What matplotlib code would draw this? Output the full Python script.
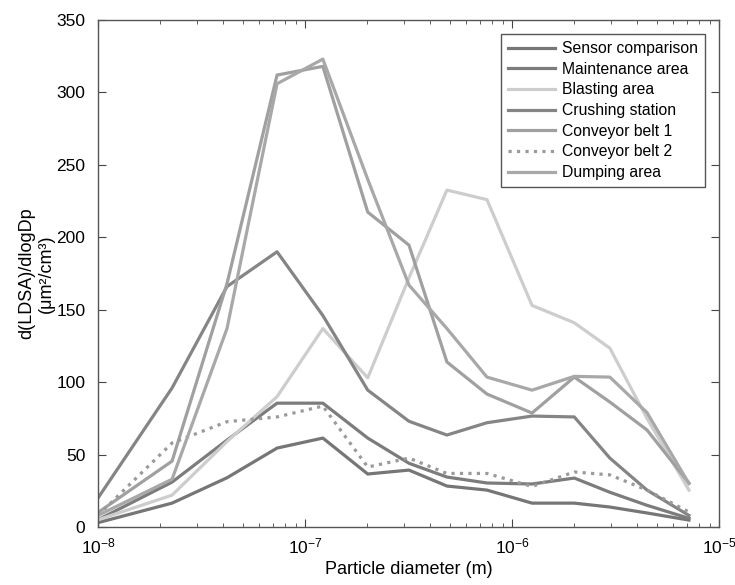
import numpy as np
import matplotlib
matplotlib.use("Agg")
import matplotlib.pyplot as plt

plt.rcParams['font.family'] = ['Liberation Sans', 'DejaVu Sans']
plt.rcParams['mathtext.default'] = 'regular'

# Particle diameter bins (m)
diameter = [1.0e-8, 2.28e-8, 4.2e-8, 7.33e-8, 1.22e-7, 2.01e-7, 3.18e-7,
            4.85e-7, 7.57e-7, 1.25e-6, 2.0e-6, 2.97e-6, 4.49e-6, 7.16e-6]

# d(LDSA)/dlogDp values
sensor_comparison = [3, 16.5, 34, 54.5, 61.4, 36.6, 39.3, 28.3, 25.5, 16.5, 16.5, 13.8, 9.7, 4.8]
maintenance_area = [5, 31, 60, 85.5, 85.5, 61.4, 44, 34.5, 30.4, 29.7, 33.8, 24, 15, 6]
blasting_area = [5, 22, 59, 90, 137, 103, 172, 232.6, 226, 153, 141, 123.5, 75, 25.5]
crushing_station = [20, 96, 166, 190, 146, 94.5, 73, 63.5, 72, 76.6, 76, 47.6, 25.5, 8]
conveyor_belt_1 = [10, 45.5, 168, 312, 318, 217.4, 194.6, 113.9, 91.8, 78.7, 103.5, 86.3, 67, 30.4]
conveyor_belt_2 = [8, 58, 72.7, 76, 83.5, 41.4, 47.6, 37, 37, 28, 38, 36, 25.5, 10.4]
dumping_area = [8, 33, 137, 306, 323, 240, 167, 137, 103.5, 94.5, 104, 103.5, 79, 30]

series = [
    ("Sensor comparison", sensor_comparison, "#767676", "-"),
    ("Maintenance area", maintenance_area, "#7c7c7c", "-"),
    ("Blasting area", blasting_area, "#cdcdcd", "-"),
    ("Crushing station", crushing_station, "#858585", "-"),
    ("Conveyor belt 1", conveyor_belt_1, "#a0a0a0", "-"),
    ("Conveyor belt 2", conveyor_belt_2, "#9a9a9a", ":"),
    ("Dumping area", dumping_area, "#a8a8a8", "-"),
]

fig = plt.figure(figsize=(7.35, 5.85), dpi=100)
ax = fig.add_axes([0.1333, 0.0991, 0.8449, 0.8667])

for name, vals, col, ls in series:
    ax.plot(diameter, vals, color=col, linestyle=ls, lw=2.3, label=name)

ax.set_xscale('log')
ax.set_xlim(1e-8, 1e-5)
ax.set_ylim(0, 350)
ax.set_yticks(np.arange(0, 351, 50))

ax.tick_params(which='both', direction='in', top=True, right=True, labelsize=12.5, color='#444444')
ax.tick_params(which='major', length=6)
ax.tick_params(which='minor', length=3)
ax.tick_params(axis='x', which='major', pad=7)
ax.tick_params(axis='y', which='major', pad=9)
for sp in ax.spines.values():
    sp.set_color('#555555')
    sp.set_linewidth(1.0)

ax.set_xlabel("Particle diameter (m)", fontsize=13, labelpad=3)
ax.set_ylabel("d(LDSA)/dlogDp\n(μm²/cm³)", fontsize=13, labelpad=1)

leg = ax.legend(loc='upper right', fontsize=11.3, handlelength=3.0, labelspacing=0.36,
                borderaxespad=0.9, fancybox=False, framealpha=1, edgecolor='#555555',
                handletextpad=0.45, borderpad=0.45)
leg.get_frame().set_linewidth(1.0)

fig.savefig("out.png", dpi=100)
